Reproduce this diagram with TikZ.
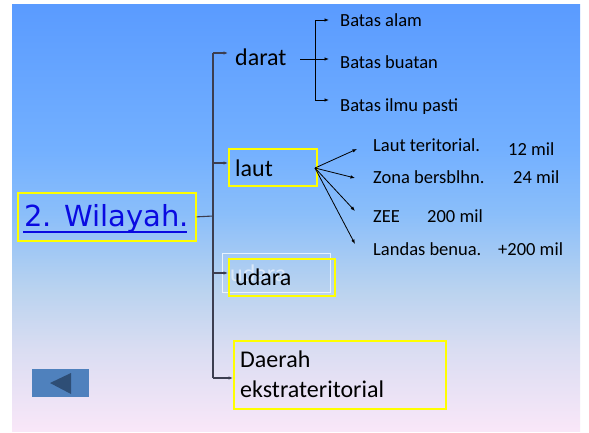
\documentclass[tikz,border=0pt]{standalone}
\usepackage{fontspec}
\setmainfont{Carlito}
\newfontfamily\titlefont{DejaVu Sans}
\usetikzlibrary{arrows.meta}
\definecolor{bgtop}{RGB}{90,155,255}
\definecolor{bgb2}{RGB}{115,176,255}
\definecolor{bgmid}{RGB}{138,190,250}
\definecolor{bglb}{RGB}{186,211,239}
\definecolor{bglav}{RGB}{218,221,242}
\definecolor{bgpk}{RGB}{249,231,248}
\definecolor{ylw}{RGB}{255,255,0}
\definecolor{trunkc}{RGB}{60,62,80}
\definecolor{ttlblue}{RGB}{10,10,225}
\definecolor{btnc}{RGB}{79,129,189}
\definecolor{btntri}{RGB}{46,78,118}
\pgfdeclareverticalshading{slidebg}{100bp}{color(0bp)=(bgpk); color(25bp)=(bgpk); color(34.5bp)=(bglav); color(41.5bp)=(bglb); color(50.5bp)=(bgmid); color(58bp)=(bgb2); color(75bp)=(bgtop); color(100bp)=(bgtop)}
\tikzset{
  ybox/.style={draw=ylw, line width=1.7pt, inner sep=0pt},
  big/.style={font=\fontsize{24}{28}\selectfont, anchor=base west, inner sep=0pt},
  small/.style={font=\fontsize{18.5}{22}\selectfont, anchor=base west, inner sep=0pt},
  conn/.style={draw=trunkc, line width=1.1pt},
  arr/.style={draw=black, line width=0.8pt, -{Latex[length=4.5pt,width=3.5pt]}},
  tarr/.style={draw=trunkc, line width=1.1pt, -{Latex[length=4.5pt,width=3.5pt]}}
}
\begin{document}
\begin{tikzpicture}[x=1pt,y=-1pt]
\useasboundingbox (0,0) rectangle (589,432);
\fill[white] (0,0) rectangle (589,432);
\shade[shading=slidebg] (12,4) rectangle (580,431);

% title
\node[ybox, anchor=north west, minimum width=178pt, minimum height=48pt] (titlebox) at (17,192) {};
\node[font=\titlefont\fontsize{29}{32}\selectfont, text=ttlblue, anchor=base west, inner sep=0pt] (title) at (24,226) {2. Wilayah.};
\draw[ttlblue, line width=2.6pt] (title.base west) ++(-1,6) coordinate (ul1) -- ++(164,0) coordinate (ul2);

% trunk
\coordinate (jT) at (213,216);
\coordinate (tTop) at (213,53);
\coordinate (tBot) at (213,378);
\draw[conn] (titlebox.east) -- (jT);
\draw[conn] (tTop) -- (tBot);

% darat
\node[big] (darat) at (235,65) {darat};
\coordinate (daratIn) at (228,53);
\draw[tarr] (tTop) -- (daratIn);

% laut
\node[ybox, anchor=north west, minimum width=88pt, minimum height=37pt] (lautbox) at (228,148) {};
\node[big] (laut) at (235,176) {laut};
\coordinate (lautJ) at (213,163);
\draw[tarr] (lautJ) -- (lautJ -| lautbox.west);

% udara
\node[draw=white, draw opacity=0.75, line width=0.9pt, anchor=north west, minimum width=108pt, minimum height=39pt, inner sep=0pt] (udaraghostbox) at (222,253) {};
\node[ybox, anchor=north west, minimum width=106pt, minimum height=37pt] (udarabox) at (228,258) {};
\node[big, text=white, text opacity=0.55] (udaraghost) at (230,281) {udara};
\node[big] (udara) at (235,285) {udara};
\coordinate (udaraJ) at (213,273);
\draw[tarr] (udaraJ) -- (udaraJ -| udarabox.west);

% daerah
\node[ybox, anchor=north west, minimum width=212pt, minimum height=68pt] (daerahbox) at (233,340) {};
\node[big] (daerah1) at (240,367) {Daerah};
\node[big] (daerah2) at (240,397) {ekstrateritorial};
\draw[tarr] (tBot) -- (tBot -| daerahbox.west);

% darat branch
\coordinate (dOut) at (300,59);
\coordinate (dV1) at (315,20);
\coordinate (dV3) at (315,100);
\coordinate (dEnd1) at (329,20);
\coordinate (dEnd2) at (329,59);
\coordinate (dEnd3) at (329,100);
\draw[arr] (dOut) -- (dEnd2);
\draw[line width=0.8pt] (dV1) -- (dV3);
\draw[arr] (dV1) -- (dEnd1);
\draw[arr] (dV3) -- (dEnd3);
\node[small] (ba1) at (340,26) {Batas alam};
\node[small] (ba2) at (340,68) {Batas buatan};
\node[small] (ba3) at (340,111) {Batas ilmu pasti};

% laut branch
\coordinate (lo) at (315,168);
\coordinate (le1) at (357,149);
\coordinate (le2) at (355,178);
\coordinate (le3) at (355,211);
\coordinate (le4) at (355,244);
\draw[arr] (lo) -- (le1);
\draw[arr] (lo) -- (le2);
\draw[arr] (lo) -- (le3);
\draw[arr] (lo) -- (le4);
\node[small] (lt1) at (373,151) {Laut teritorial.};
\node[small] (lt1b) at (508,155) {12 mil};
\node[small] (lt2) at (373,183) {Zona bersblhn.};
\node[small] (lt2b) at (513,183) {24 mil};
\node[small] (lt3) at (373,222) {ZEE};
\node[small] (lt3b) at (427,222) {200 mil};
\node[small] (lt4) at (373,255) {Landas benua.};
\node[small] (lt4b) at (498,255) {+200 mil};

% back button
\node[fill=btnc, anchor=north west, minimum width=57pt, minimum height=28pt, inner sep=0pt] (back) at (32,369) {};
\fill[btntri] (50,383) -- (71,373) -- (71,394) -- cycle;
\end{tikzpicture}
\end{document}
